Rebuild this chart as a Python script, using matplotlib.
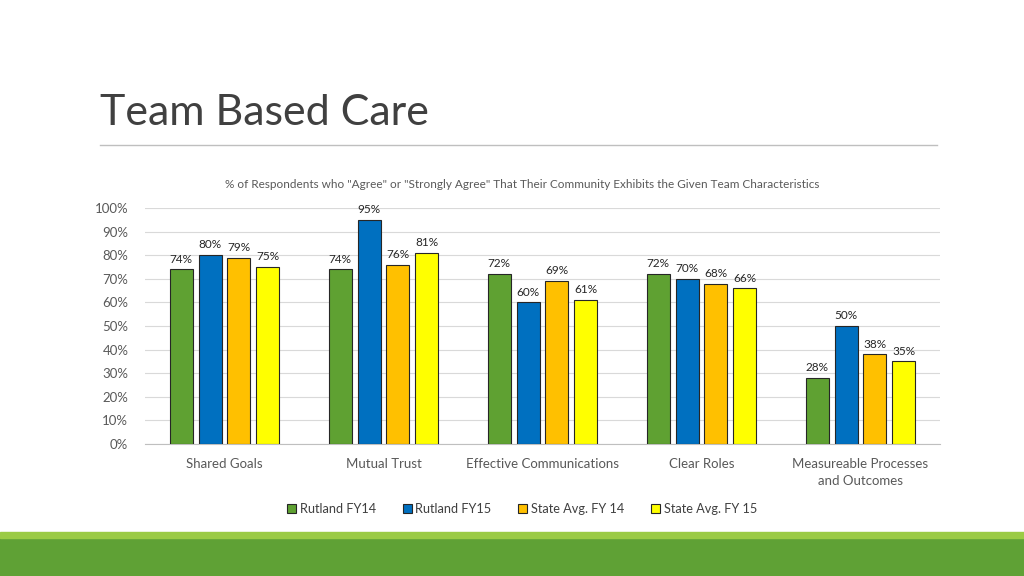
import matplotlib.pyplot as plt
import numpy as np
from matplotlib.patches import Rectangle
from matplotlib.lines import Line2D

plt.rcParams['font.family'] = ['Lato', 'DejaVu Sans']

categories = ["Shared Goals", "Mutual Trust", "Effective Communications",
              "Clear Roles", "Measureable Processes\nand Outcomes"]
series_names = ["Rutland FY14", "Rutland FY15", "State Avg. FY 14", "State Avg. FY 15"]
rutland_fy14 = [74, 74, 72, 72, 28]
rutland_fy15 = [80, 95, 60, 70, 50]
state_fy14 = [79, 76, 69, 68, 38]
state_fy15 = [75, 81, 61, 66, 35]
colors = ["#5FA132", "#0070C0", "#FFC000", "#FFFF00"]
yticks = [0, 10, 20, 30, 40, 50, 60, 70, 80, 90, 100]

fig = plt.figure(figsize=(10.24, 5.76), dpi=100)

# title and rule
fig.text(100/1024, 1-113/576, "Team Based Care", fontsize=31, color="#404040",
         fontweight="normal", va="center", ha="left")
fig.add_artist(Line2D([100/1024, 937/1024], [1-145/576, 1-145/576],
                      color="#BFBFBF", lw=1))

# green band at bottom
fig.add_artist(Rectangle((0, 0), 1, 1-538/576, transform=fig.transFigure,
                         color="#5FA135", zorder=0))
fig.add_artist(Rectangle((0, 1-538/576), 1, 6/576, transform=fig.transFigure,
                         color="#9BCB45", zorder=0))

fig.text(522/1024, 1-185/576,
         '% of Respondents who "Agree" or "Strongly Agree" That Their Community Exhibits the Given Team Characteristics',
         fontsize=8.5, color="#595959", ha="center", va="center")

ax = fig.add_axes([145/1024, 1-444/576, 795/1024, 236/576])
x = np.arange(len(categories))
step = 0.182
width = 0.145
data = [rutland_fy14, rutland_fy15, state_fy14, state_fy15]
for i, (vals, name, c) in enumerate(zip(data, series_names, colors)):
    pos = x + (i - 1.5) * step
    ax.bar(pos, vals, width, color=c, edgecolor="#262626", linewidth=0.8,
           label=name, zorder=3)
    for p, v in zip(pos, vals):
        ax.text(p, v + 2.0, f"{v}%", ha="center", va="bottom", fontsize=8.5,
                color="#262626")

ax.set_xlim(-0.5, len(categories) - 0.5)
ax.set_ylim(0, 100)
ax.set_yticks(yticks)
ax.set_yticklabels([f"{t}%" for t in yticks], fontsize=9.5, color="#595959")
ax.set_xticks(x)
ax.set_xticklabels(categories, fontsize=9.5, color="#595959", linespacing=1.5)
ax.tick_params(axis="both", length=0, pad=10)
ax.tick_params(axis="y", pad=12)
ax.grid(axis="y", color="#D9D9D9", lw=0.8, zorder=0)
for s in ["top", "right", "left"]:
    ax.spines[s].set_visible(False)
ax.spines["bottom"].set_color("#BFBFBF")

fig.legend(loc="center", bbox_to_anchor=(522/1024, 1-509/576), ncol=4,
           frameon=False, fontsize=9.2, handlelength=0.7, handleheight=0.7,
           handletextpad=0.3, columnspacing=2.1, labelcolor="#404040")

fig.savefig("out.png", dpi=100)
